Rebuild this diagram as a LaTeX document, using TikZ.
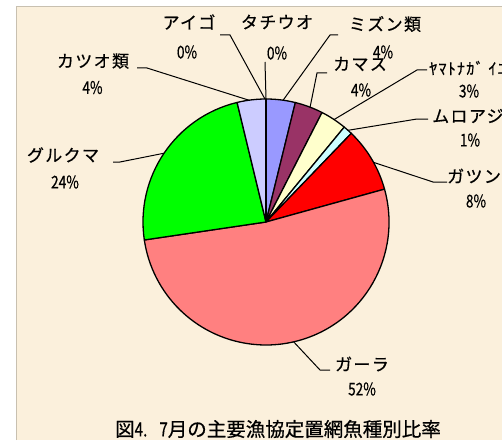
\documentclass[tikz,border=0pt]{standalone}
\usepackage{fontspec}
\newfontfamily\jp{Noto Sans CJK JP}[LetterSpace=8,FakeBold=0.6]
\newfontfamily\jpn{Noto Sans CJK JP}[FakeBold=0.6]
\definecolor{bg}{HTML}{FBF0DC}
\definecolor{frame}{HTML}{C8C0B0}
\definecolor{cblue}{HTML}{9999FF}
\definecolor{cpurple}{HTML}{993366}
\definecolor{cyellow}{HTML}{FFFFCC}
\definecolor{ccyan}{HTML}{CCFFFF}
\definecolor{cred}{HTML}{FF0000}
\definecolor{csalmon}{HTML}{FF8080}
\definecolor{cgreen}{HTML}{00FF00}
\definecolor{clav}{HTML}{CCCCFF}
\newcommand{\pc}[1]{\scalebox{0.78}[1]{#1}}
\begin{document}
\begin{tikzpicture}[x=1pt,y=1pt,
  lbl/.style={inner sep=0pt, font=\jp\fontsize{17}{17}\selectfont},
  pct/.style={inner sep=0pt, font=\jpn\fontsize{17.5}{17.5}\selectfont},
  ttl/.style={inner sep=0pt, font=\jpn\fontsize{19.5}{19.5}\selectfont},
  leader/.style={line width=1pt, draw=black},
  slice/.style={draw=black, line width=1.3pt, line join=round}]
\useasboundingbox (0,0) rectangle (502,440);
\clip (0,0) rectangle (502,440);
\fill[white] (0,0) rectangle (502,440);
\fill[bg] (16,0) rectangle (502,434);
\draw[frame, line width=0.8pt] (16,0) -- (16,434) -- (502,434);
% pie
\coordinate (C) at (266,218);
\def\R{123}
\filldraw[slice, fill=cblue] (C) -- ++(90:\R) arc[start angle=90, end angle=76.2, radius=\R] -- cycle;
\filldraw[slice, fill=cpurple] (C) -- ++(76.2:\R) arc[start angle=76.2, end angle=62.9, radius=\R] -- cycle;
\filldraw[slice, fill=cyellow] (C) -- ++(62.9:\R) arc[start angle=62.9, end angle=50.5, radius=\R] -- cycle;
\filldraw[slice, fill=ccyan] (C) -- ++(50.5:\R) arc[start angle=50.5, end angle=46.1, radius=\R] -- cycle;
\filldraw[slice, fill=cred] (C) -- ++(46.1:\R) arc[start angle=46.1, end angle=15.5, radius=\R] -- cycle;
\filldraw[slice, fill=csalmon] (C) -- ++(15.5:\R) arc[start angle=15.5, end angle=-171.6, radius=\R] -- cycle;
\filldraw[slice, fill=cgreen] (C) -- ++(-171.6:\R) arc[start angle=-171.6, end angle=-256.4, radius=\R] -- cycle;
\filldraw[slice, fill=clav] (C) -- ++(103.6:\R) arc[start angle=103.6, end angle=90, radius=\R] -- cycle;
\draw[slice, line width=2pt] (C) -- ++(90:\R);
% pie edge points
\path (C) ++(90.5:\R) coordinate (aigoE);
\path (C) ++(90:\R) coordinate (tachiE);
\path (C) ++(82:\R) coordinate (mizunE);
\path (C) ++(69:\R) coordinate (kamasE);
\path (C) ++(56.4:\R) coordinate (yamaE);
\path (C) ++(48.2:\R) coordinate (muroE);
\path (C) ++(29:\R) coordinate (gatsE);
\path (C) ++(-77:\R) coordinate (garaE);
\path (C) ++(146:\R) coordinate (guruE);
\path (C) ++(98:\R) coordinate (katsE);
% labels
\node[lbl] (aigo) at (189,418) {アイゴ};
\node[pct] (aigoP) at (187,388) {\pc{0\%}};
\node[lbl] (tachi) at (277,418) {タチウオ};
\node[pct] (tachiP) at (277,387) {\pc{0\%}};
\node[lbl] (mizun) at (385,416) {ミズン類};
\node[pct] (mizunP) at (383,388) {\pc{4\%}};
\node[lbl] (kamas) at (360,376) {カマス};
\node[pct] (kamasP) at (361,350) {\pc{4\%}};
\node[lbl, anchor=west, font=\jp\fontsize{16}{16}\selectfont] (yama) at (429,372) {ﾔﾏﾄﾅｶﾞ ｲﾕ};
\node[pct] (yamaP) at (469,349) {\pc{3\%}};
\node[lbl, anchor=west] (muro) at (432,324) {ムロアジ};
\node[pct] (muroP) at (470,300) {\pc{1\%}};
\node[lbl, anchor=west] (gats) at (447,264) {ガツン};
\node[pct] (gatsP) at (476,239) {\pc{8\%}};
\node[lbl] (gara) at (362,76) {ガーラ};
\node[pct] (garaP) at (362,51) {\pc{52\%}};
\node[lbl] (guru) at (63,285) {グルクマ};
\node[pct] (guruP) at (65,258) {\pc{24\%}};
\node[lbl] (kats) at (93,379) {カツオ類};
\node[pct] (katsP) at (92.5,352.5) {\pc{4\%}};
\node[ttl] (title) at (278,11) {図\pc{4.}\hspace{12pt}\pc{7}月の主要漁協定置網魚種別比率};
% leader bends
\coordinate (aigoA) at (220,405); \coordinate (aigoB) at (230,405);
\coordinate (tachiA) at (265,378);
\coordinate (mizunA) at (338,405); \coordinate (mizunB) at (330,405);
\coordinate (kamasA) at (327,367); \coordinate (kamasB) at (317,367);
\coordinate (yamaA) at (427,370); \coordinate (yamaB) at (417,370);
\coordinate (muroA) at (428,321); \coordinate (muroB) at (417,321);
\coordinate (gatsA) at (447,258); \coordinate (gatsB) at (433,258);
\coordinate (garaA) at (330,70); \coordinate (garaB) at (320,70);
\coordinate (guruA) at (113,278); \coordinate (guruB) at (120,278);
\coordinate (katsA) at (137,372); \coordinate (katsB) at (147,372);
\draw[leader] (aigoA) -- (aigoB) -- (aigoE);
\draw[leader] (tachiA) -- (tachiE);
\draw[leader] (mizunA) -- (mizunB) -- (mizunE);
\draw[leader] (kamasA) -- (kamasB) -- (kamasE);
\draw[leader] (yamaA) -- (yamaB) -- (yamaE);
\draw[leader] (muroA) -- (muroB) -- (muroE);
\draw[leader] (gatsA) -- (gatsB) -- (gatsE);
\draw[leader] (garaA) -- (garaB) -- (garaE);
\draw[leader] (guruA) -- (guruB) -- (guruE);
\draw[leader] (katsA) -- (katsB) -- (katsE);
\end{tikzpicture}
\end{document}
